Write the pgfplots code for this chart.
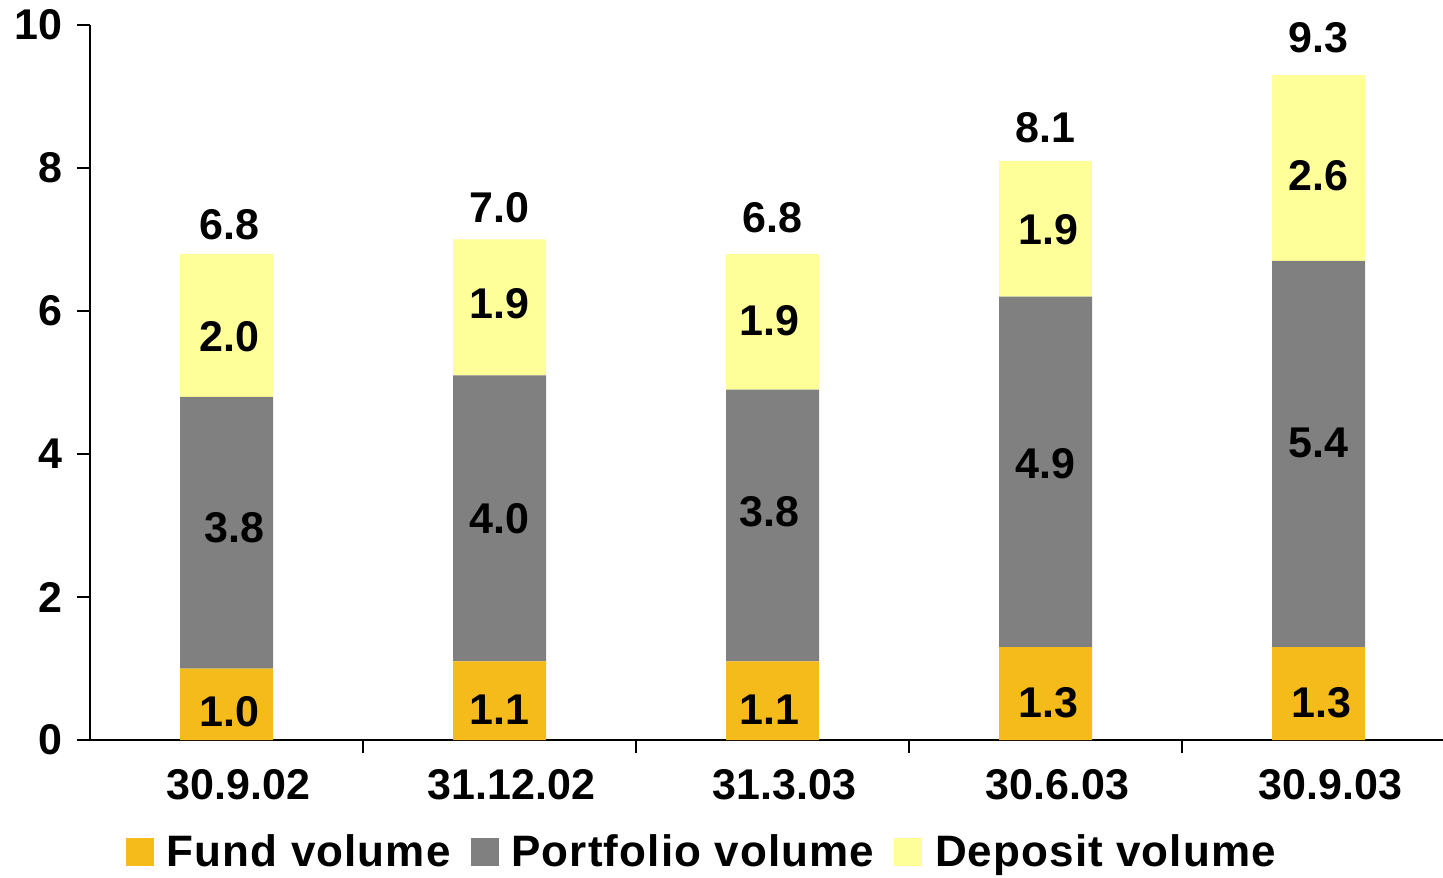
\documentclass[border=0pt]{standalone}
\usepackage{pgfplots}
\pgfplotsset{compat=1.18}
\usepackage{fontspec}
\setmainfont{Liberation Sans}
\definecolor{fundc}{RGB}{245,187,26}
\definecolor{portc}{RGB}{128,128,128}
\definecolor{depc}{RGB}{255,255,153}
\newcommand{\lbl}{\fontsize{21.5}{25}\selectfont\bfseries}
\newcommand{\bigf}{\fontsize{21.5}{25}\selectfont\bfseries}
\newcommand{\legf}{\fontsize{22}{26}\selectfont\bfseries\addfontfeatures{LetterSpace=2.5}}
\begin{document}
\begin{tikzpicture}
\begin{axis}[
  scale only axis,
  width=676.5pt, height=357.5pt,
  xmin=-0.5, xmax=4.456,
  ymin=0, ymax=10,
  ybar stacked,
  bar width=46.5pt,
  axis x line*=bottom, axis y line*=left,
  axis line style={black, line width=0.8pt},
  ytick={0,2,4,6,8,10},
  xtick={0.5,1.5,2.5,3.5},
  xticklabels={},
  extra x ticks={0,1,2,3,4},
  extra x tick labels={30.9.02,31.12.02,31.3.03,30.6.03,30.9.03},
  extra x tick style={major tick length=0pt, tick label style={font=\bigf, yshift=-11pt, xshift=6pt}},
  tick align=outside,
  major tick length=6.5pt,
  tick style={black, line width=0.8pt},
  y tick label style={font=\lbl, xshift=-4pt},
  /pgf/number format/assume math mode=true,
  legend style={at={(0.453,-0.157)}, anchor=center, draw=none, fill=none,
    legend columns=3, font=\legf,
    /tikz/every even column/.append style={column sep=8pt},
    /tikz/every odd column/.append style={column sep=4.5pt}},
  legend image code/.code={\fill[#1] (0pt,-7pt) rectangle (14pt,7pt);},
]
\addplot[fill=fundc, draw=none] coordinates {(0,1.0) (1,1.1) (2,1.1) (3,1.3) (4,1.3)};
\addplot[fill=portc, draw=none] coordinates {(0,3.8) (1,4.0) (2,3.8) (3,4.9) (4,5.4)};
\addplot[fill=depc, draw=none] coordinates {(0,2.0) (1,1.9) (2,1.9) (3,1.9) (4,2.6)};
\legend{Fund volume, Portfolio volume, Deposit volume}
\coordinate (a1) at (axis cs:0.01,0.39);
\coordinate (a2) at (axis cs:0.03,2.97);
\coordinate (a3) at (axis cs:0.01,5.64);
\coordinate (a4) at (axis cs:0.01,7.20);
\coordinate (b1) at (axis cs:1.0,0.43);
\coordinate (b2) at (axis cs:1.0,3.10);
\coordinate (b3) at (axis cs:1.0,6.10);
\coordinate (b4) at (axis cs:1.0,7.44);
\coordinate (c1) at (axis cs:1.99,0.43);
\coordinate (c2) at (axis cs:1.99,3.19);
\coordinate (c3) at (axis cs:1.99,5.87);
\coordinate (c4) at (axis cs:2.0,7.30);
\coordinate (d1) at (axis cs:3.01,0.52);
\coordinate (d2) at (axis cs:3.0,3.87);
\coordinate (d3) at (axis cs:3.01,7.13);
\coordinate (d4) at (axis cs:3.0,8.57);
\coordinate (e1) at (axis cs:4.01,0.52);
\coordinate (e2) at (axis cs:4.0,4.15);
\coordinate (e3) at (axis cs:4.0,7.89);
\coordinate (e4) at (axis cs:4.0,9.82);
\end{axis}
\begin{scope}[every node/.style={font=\lbl}]
\node at (a1) {1.0}; \node at (a2) {3.8}; \node at (a3) {2.0}; \node at (a4) {6.8};
\node at (b1) {1.1}; \node at (b2) {4.0}; \node at (b3) {1.9}; \node at (b4) {7.0};
\node at (c1) {1.1}; \node at (c2) {3.8}; \node at (c3) {1.9}; \node at (c4) {6.8};
\node at (d1) {1.3}; \node at (d2) {4.9}; \node at (d3) {1.9}; \node at (d4) {8.1};
\node at (e1) {1.3}; \node at (e2) {5.4}; \node at (e3) {2.6}; \node at (e4) {9.3};
\end{scope}
\pgfresetboundingbox
\path[use as bounding box] (-45pt,-68.5pt) rectangle (676.5pt,370pt);
\end{tikzpicture}
\end{document}
